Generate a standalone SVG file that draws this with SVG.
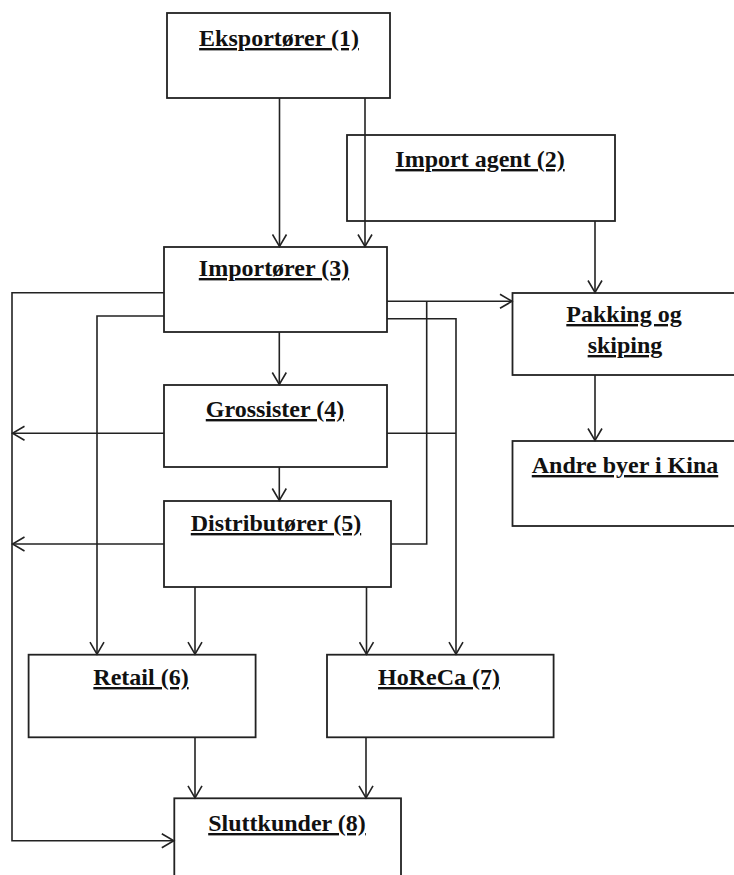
<svg xmlns="http://www.w3.org/2000/svg" width="734" height="875" viewBox="0 0 734 875">
  <defs>
    <style>
      .box { fill: #ffffff; stroke: #222; stroke-width: 1.8; }
      .lbl { font-family: "Liberation Serif", "Times New Roman", serif; font-weight: bold; font-size: 24px; fill: #111; text-anchor: middle; text-decoration: underline; }
      .wire { fill: none; stroke: #222; stroke-width: 1.6; }
      .arr { marker-end: url(#vhead); }
    </style>
    <marker id="vhead" viewBox="-14 -8 16 16" markerWidth="16" markerHeight="16" refX="0" refY="0" orient="auto" markerUnits="userSpaceOnUse">
      <path d="M-12,-7 L0,0 L-12,7" fill="none" stroke="#222" stroke-width="1.6"/>
    </marker>
  </defs>
  <rect width="734" height="875" fill="#ffffff"/>

  <!-- boxes -->
  <g id="n1-eksportorer">
    <rect class="box" x="167" y="13" width="223" height="85"/>
    <text class="lbl" x="279" y="46">Eksportører (1)</text>
  </g>
  <g id="n2-import-agent">
    <rect class="box" x="347" y="135" width="268" height="86"/>
    <text class="lbl" x="480" y="167">Import agent (2)</text>
  </g>
  <g id="n3-importorer">
    <rect class="box" x="164" y="247" width="223" height="85"/>
    <text class="lbl" x="274" y="276">Importører (3)</text>
  </g>
  <g id="n4-grossister">
    <rect class="box" x="164" y="385" width="223" height="82"/>
    <text class="lbl" x="275" y="417">Grossister (4)</text>
  </g>
  <g id="n5-distributorer">
    <rect class="box" x="164" y="501" width="227" height="86"/>
    <text class="lbl" x="276" y="531">Distributører (5)</text>
  </g>
  <g id="n-pakking">
    <rect class="box" x="512.5" y="293" width="230" height="82"/>
    <text class="lbl" x="624" y="322">Pakking og</text>
    <text class="lbl" x="625" y="353">skiping</text>
  </g>
  <g id="n-andre-byer">
    <rect class="box" x="512.5" y="441" width="230" height="85"/>
    <text class="lbl" x="625" y="473">Andre byer i Kina</text>
  </g>
  <g id="n6-retail">
    <rect class="box" x="28.6" y="654.7" width="227" height="82.6"/>
    <text class="lbl" x="141" y="685">Retail (6)</text>
  </g>
  <g id="n7-horeca">
    <rect class="box" x="327" y="654.7" width="226.6" height="82.6"/>
    <text class="lbl" x="439" y="685">HoReCa (7)</text>
  </g>
  <g id="n8-sluttkunder">
    <rect class="box" x="174.3" y="798.3" width="226.7" height="100"/>
    <text class="lbl" x="287" y="831">Sluttkunder (8)</text>
  </g>

  <!-- connectors -->
  <g id="connectors">
    <path class="wire arr" d="M279.5,98 V246.5"/>
    <path class="wire arr" d="M365,98 V246.5"/>
    <path class="wire arr" d="M595,221 V292.5"/>
    <path class="wire arr" d="M595,375 V440.5"/>
    <path class="wire arr" d="M387,301.3 H512"/>
    <path class="wire" d="M391,544 H426.7 V301.3"/>
    <path class="wire arr" d="M387,318.7 H456 V654.2"/>
    <path class="wire" d="M387,433.3 H456"/>
    <path class="wire arr" d="M164,292.7 H12 V840.7 H173.8"/>
    <path class="wire arr" d="M164,316 H97 V654.2"/>
    <path class="wire arr" d="M279.3,332 V384.5"/>
    <path class="wire arr" d="M164,433.3 H12.5"/>
    <path class="wire arr" d="M279.3,467 V500.5"/>
    <path class="wire arr" d="M164,544 H12.5"/>
    <path class="wire arr" d="M195,587 V654.2"/>
    <path class="wire arr" d="M366.5,587 V654.2"/>
    <path class="wire arr" d="M195,737.3 V797.8"/>
    <path class="wire arr" d="M366,737.3 V797.8"/>
  </g>
</svg>
